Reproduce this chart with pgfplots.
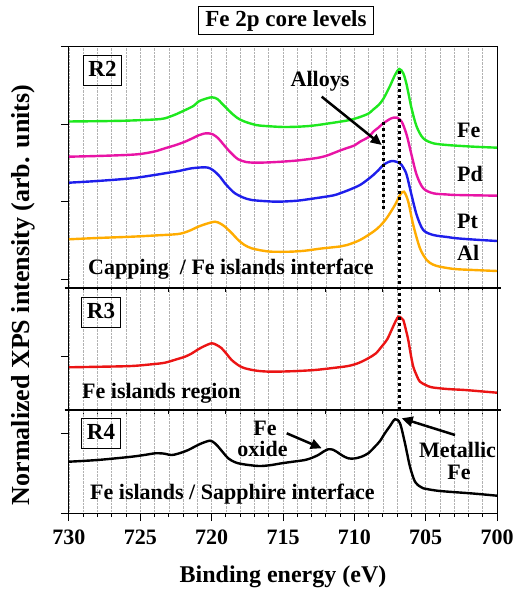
\documentclass[border=0pt]{standalone}
\usepackage{fontspec}
\setmainfont{Liberation Serif}
\usepackage{pgfplots}
\pgfplotsset{compat=1.18}
\usetikzlibrary{arrows.meta}
\definecolor{cgreen}{RGB}{30,232,30}
\definecolor{cmag}{RGB}{232,20,165}
\definecolor{cblue}{RGB}{30,30,235}
\definecolor{corange}{RGB}{255,172,0}
\definecolor{cred}{RGB}{235,20,20}
\newcommand{\ftxt}{\fontsize{22bp}{26bp}\selectfont\bfseries}
\newcommand{\fboxlab}{\fontsize{23bp}{27bp}\selectfont\bfseries}
\newcommand{\fxlab}{\fontsize{24bp}{28bp}\selectfont\bfseries}
\newcommand{\fylab}{\fontsize{26bp}{30bp}\selectfont\bfseries}
\pgfplotsset{panel/.style={
  scale only axis, width=428bp, xmin=700, xmax=730, x dir=reverse,
  xtick={700,705,...,730}, minor x tick num=4,
  xmajorgrids, xminorgrids,
  major grid style={densely dotted, black!30, line width=0.6pt},
  minor grid style={densely dotted, black!30, line width=0.6pt},
  tick align=outside, ytick pos=left, xtick pos=bottom,
  yticklabels={},
  axis line style={line width=1pt},
  major tick length=8bp, minor tick length=4bp,
  every tick/.style={line width=1pt, black},
  clip=false,
  /pgf/number format/assume math mode=true,
  xticklabel style={font=\ftxt, yshift=-5bp},
  every axis plot/.append style={line width=2.4bp, smooth, no markers},
}}
\begin{document}
\begin{tikzpicture}[x=1bp,y=1bp]
\path[use as bounding box] (0,0) rectangle (523,593);
% ---------- R2 ----------
\begin{axis}[panel, at={(69bp,305bp)}, anchor=south west, height=241bp,
  ymin=0, ymax=241, ytick={8.5,86,163.5,241}, xticklabels={},
  xmajorticks=false, xminorticks=false]
\addplot[cgreen] coordinates {
(730,166.5)(728,166.8)(726,167.3)(724,168.5)(723.27,169.7)(722.45,174)(722.1,176.3)
(721.28,182)(720.94,186.3)(720.58,188.5)(720.0,190.7)(719.6,189)(719.3,184.7)
(718.95,179.7)(718.6,174.7)(718.14,169.5)(717.67,166.3)(716.9,163)(716.26,162)
(715,161)(713.93,161.3)(713,162.2)(712.06,164)(711,166.3)(710.3,168)(709.6,171)
(709.0,174.5)(708.67,178.5)(708.3,183)(707.97,189)(707.5,202)(707.15,213)
(706.85,219)(706.57,214.7)(706.33,203)(705.99,179.7)(705.63,161.3)(705.17,149.7)
(704.47,144.7)(703.5,143)(702.83,142.3)(701.5,141.2)(700,140.3)};
\addplot[cmag] coordinates {
(730,131.3)(728,132)(726,133)(725,134)(724,136.5)(723.27,139.7)(722.5,143)
(721.87,146.3)(721.3,150)(720.94,152.5)(720.5,154.5)(720.24,154.7)(719.9,153.5)
(719.54,149.7)(719.2,144)(718.84,138)(718.5,133)(718.14,128.7)(717.6,126)
(716.97,125.3)(716,125.6)(715.1,126.3)(714,127.5)(712.76,129.7)(712,132)
(711,137.5)(710.5,140)(710,142.5)(709.6,146.3)(709,151)(708.67,156.3)(708.3,160.5)
(707.97,164.7)(707.4,169.7)(707.03,170.3)(706.68,166.3)(706.33,153)(705.99,133)
(705.63,113)(705.17,99.7)(704.47,94.7)(703.5,93.5)(702.83,93)(700,92.3)};
\addplot[cblue] coordinates {
(730,105.3)(728,107)(725.6,109.7)(724,113)(723.27,114.7)(722.3,117)(721.4,119.7)
(720.47,120.7)(720.1,119.5)(719.77,116.3)(719.4,111)(719.07,104.7)(718.7,99)
(718.37,94.7)(717.8,90.5)(717.2,88)(716.2,86.8)(715.33,86.3)(714,87.3)
(712.76,89.7)(711.5,92.5)(711,94.7)(710.3,98.5)(709.6,103)(709.1,108)(708.67,113)
(708.3,118)(707.97,123)(707.6,126)(707.27,127)(706.8,124.7)(706.55,120)
(706.33,113)(705.99,93)(705.63,73)(705.17,58)(704.47,53)(703.5,51)(702.83,49.7)
(701.5,48.3)(700,47)};
\addplot[corange] coordinates {
(730,48.7)(728,50)(725.6,51.3)(724,52.5)(722.34,54)(721.6,57)(720.94,61.3)
(720.3,64.5)(719.77,66.3)(719.4,64.5)(719.07,61.3)(718.6,55)(718.14,48)(717.7,43)
(717.2,39.7)(716.5,37.5)(715.8,36.3)(714.5,36.3)(713.46,37.3)(712.3,39.5)(711,41.5)
(710.5,43)(709.6,48)(708.67,56.3)(708.2,62)(707.74,69.7)(707.15,83)(706.8,93)
(706.52,96.3)(706.22,86.3)(705.87,63)(705.4,39.7)(704.93,28)(704.5,23.5)(704,21.3)
(703,19)(701.66,18)(700,17)};
\draw[line width=3bp, dash pattern=on 3bp off 3bp] (axis cs:707.97,166.3) -- (axis cs:707.97,77);
\end{axis}
% ---------- R3 ----------
\begin{axis}[panel, at={(69bp,183bp)}, anchor=south west, height=122bp,
  ymin=0, ymax=122, ytick={53.3}, xticklabels={},
  xmajorticks=false, xminorticks=false]
\addplot[cred] coordinates {
(730,42.7)(728,43.2)(725.6,44)(724,46)(723.27,47.3)(722.5,50.5)(721.87,53.3)
(721.4,56.5)(720.94,60.7)(720.5,64)(720.0,66.7)(719.65,65)(719.3,61.7)(718.95,56)
(718.6,50)(718.1,44.5)(717.67,41.7)(716.8,39.2)(715.8,38.3)(714.3,38.8)(712.76,40)
(711.5,42)(710.43,44)(709.7,47)(709.03,51.7)(708.5,56.5)(708.09,63.3)(707.7,70.5)
(707.39,80)(707.1,89)(706.92,93.3)(706.75,92.5)(706.57,90)(706.4,81)(706.22,70)
(706.05,56)(705.87,43.3)(705.6,33.5)(705.4,28.3)(705,25)(704.58,22.7)(703.5,21)
(702.25,20)(701,18.5)(700,17.3)};
\draw[line width=2bp] (axis cs:730.3,0) -- (axis cs:699.7,0);
\draw[line width=2bp] (axis cs:730.3,122) -- (axis cs:699.7,122);
\end{axis}
% ---------- R4 ----------
\begin{axis}[panel, at={(69bp,80bp)}, anchor=south west, height=103bp,
  ymin=0, ymax=103, ytick={0,79}]
\addplot[black] coordinates {
(730,51.3)(728,53)(725.6,56.3)(724.5,58.5)(723.97,59.7)(723.4,59.5)(722.8,58)
(722.2,60)(721.64,63)(721.1,67)(720.7,69.7)(720.12,72.3)(719.8,70)(719.54,66.3)
(719.2,60.5)(718.84,54.7)(718.4,51)(717.9,49)(716.73,47)(715.9,47.8)(715.1,49.7)
(714.3,51.3)(713.46,53)(713,55)(712.53,58)(712.15,61.5)(711.83,63.7)(711.5,63.3)
(711.24,61.3)(710.85,57.5)(710.43,54.7)(710,54.5)(709.49,56.3)(709,60)(708.56,66.3)
(708.2,72)(707.86,79.7)(707.5,87)(707.15,93.7)(706.8,89.7)(706.45,69.7)(706.1,46.3)
(705.75,31.3)(705.4,26.5)(705.17,24.7)(704.3,22.5)(703.42,21.3)(701.7,19.5)(700,17.3)};
\draw[line width=3bp, dash pattern=on 3bp off 3bp] (axis cs:706.85,442) -- (axis cs:706.85,101);
\end{axis}
% ---------- annotations ----------
\node[draw, line width=1bp, inner xsep=7bp, inner ysep=4bp, font=\fboxlab] at (286,572.5) {Fe 2p core levels};
\node[draw, line width=1bp, inner xsep=5bp, inner ysep=5bp, text height=16bp, text depth=4bp, font=\fboxlab] at (102.5,522) {R2};
\node[draw, line width=1bp, inner xsep=5bp, inner ysep=5bp, text height=16bp, text depth=4bp, font=\fboxlab] at (101,280.5) {R3};
\node[draw, line width=1bp, inner xsep=5bp, inner ysep=5bp, text height=16bp, text depth=4bp, font=\fboxlab] at (101,159.5) {R4};
\node[font=\ftxt, inner sep=0pt] at (320,512) {Alloys};
\draw[line width=2.5bp, -{Triangle[length=11bp,width=10bp]}] (321.7,496.3) -- (381.7,448);
\node[font=\ftxt, anchor=west, inner sep=0pt] at (457,463) {Fe};
\node[font=\ftxt, anchor=west, inner sep=0pt] at (457,418.8) {Pd};
\node[font=\ftxt, anchor=west, inner sep=0pt] at (457,371.3) {Pt};
\node[font=\ftxt, anchor=west, inner sep=0pt] at (457,339.7) {Al};
\node[font=\ftxt, anchor=west, inner sep=0pt] at (88,324) {Capping\ \ / Fe islands interface};
\node[font=\ftxt, anchor=west, inner sep=0pt] at (82,199.7) {Fe islands region};
\node[font=\ftxt, anchor=west, inner sep=0pt] at (90,99) {Fe islands / Sapphire interface};
\node[font=\ftxt, inner sep=0pt] at (265,165) {Fe};
\node[font=\ftxt, inner sep=0pt] at (262.5,144) {oxide};
\draw[line width=2.5bp, -{Triangle[length=11bp,width=10bp]}] (286.7,159.7) -- (321.7,144.7);
\node[font=\ftxt, inner sep=0pt] at (457.5,143.5) {Metallic};
\node[font=\ftxt, inner sep=0pt] at (459,120.5) {Fe};
\draw[line width=2.5bp, -{Triangle[length=11bp,width=10bp]}] (455,158) -- (401.7,174.7);
\node[font=\fxlab] at (283,16) {Binding energy (eV)};
\node[font=\fylab, rotate=90] at (23,298) {Normalized XPS intensity (arb. units)};
\end{tikzpicture}
\end{document}
